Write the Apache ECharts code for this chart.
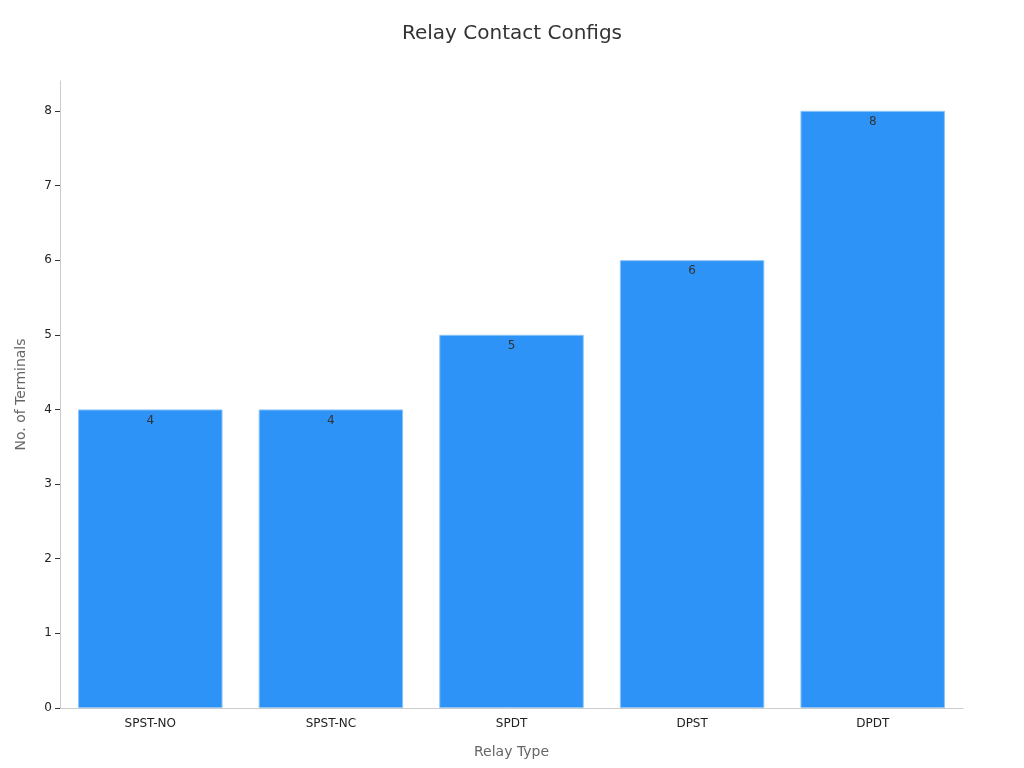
<!DOCTYPE html>
<html>
<head>
<meta charset="utf-8">
<script src="https://cdn.jsdelivr.net/npm/echarts@6/dist/echarts.min.js"></script>
<style>html,body{margin:0;padding:0;background:#fff}#c{width:1024px;height:768px}</style>
</head>
<body>
<div id="c"></div>
<script>
const categories = ['SPST-NO', 'SPST-NC', 'SPDT', 'DPST', 'DPDT'];
const terminals = [4, 4, 5, 6, 8];
const yTicks = [0, 1, 2, 3, 4, 5, 6, 7, 8];

const chart = echarts.init(document.getElementById('c'));
const font = 'DejaVu Sans';
chart.setOption({
  animation: false,
  textStyle: { fontFamily: font },
  title: {
    text: 'Relay Contact Configs',
    left: 'center',
    top: 19,
    textStyle: { fontFamily: font, fontSize: 20, fontWeight: 'normal', color: '#333' }
  },
  grid: { left: 60, right: 61, top: 81, bottom: 60, containLabel: false },
  xAxis: {
    type: 'category',
    data: categories,
    name: 'Relay Type',
    nameLocation: 'middle',
    nameGap: 37,
    nameTextStyle: { fontFamily: font, fontSize: 14, color: '#666' },
    axisLine: { lineStyle: { color: '#ccc' } },
    axisTick: { alignWithLabel: true, lineStyle: { color: '#333' } },
    axisLabel: { fontFamily: font, fontSize: 12, color: '#222', margin: 10 }
  },
  yAxis: {
    type: 'value',
    min: 0,
    max: 8.4,
    interval: 1,
    name: 'No. of Terminals',
    nameLocation: 'middle',
    nameGap: 32,
    nameTextStyle: { fontFamily: font, fontSize: 14, color: '#666' },
    axisLine: { show: true, lineStyle: { color: '#ccc' } },
    axisTick: { show: true, lineStyle: { color: '#333' } },
    splitLine: { show: false },
    axisLabel: {
      fontFamily: font, fontSize: 12, color: '#222', showMaxLabel: false,
      formatter: v => (yTicks.indexOf(v) >= 0 ? String(v) : '')
    }
  },
  series: [{
    type: 'bar',
    data: terminals,
    barWidth: '80%',
    itemStyle: { color: '#2E93F7', borderColor: '#8CC4F8', borderWidth: 1 },
    label: {
      show: true,
      position: 'insideTop',
      offset: [0, 0],
      fontFamily: font,
      fontSize: 12,
      color: '#333'
    }
  }]
});
</script>
</body>
</html>
